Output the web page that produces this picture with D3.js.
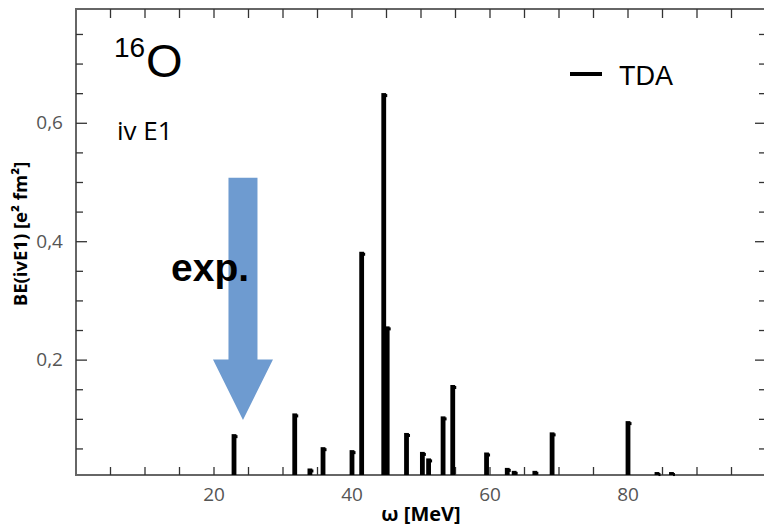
<!DOCTYPE html>
<html>
<head>
<meta charset="utf-8">
<script src="https://cdn.jsdelivr.net/npm/d3@7"></script>
<style>
  body { margin: 0; background: #fff; }
  svg { display: block; }
</style>
</head>
<body>
<svg width="764" height="527"></svg>
<script>
// TDA isovector E1 strengths for 16O
const energies = [22.9, 31.7, 33.9, 35.8, 40.0, 41.4, 44.6, 45.1, 47.9, 50.2, 51.1,
                  53.2, 54.6, 59.5, 62.5, 63.5, 66.5, 69.0, 80.0, 84.2, 86.3];
const strengths = [0.075, 0.110, 0.017, 0.053, 0.048, 0.383, 0.651, 0.257, 0.077, 0.045, 0.034,
                   0.105, 0.158, 0.044, 0.018, 0.013, 0.013, 0.078, 0.097, 0.011, 0.011];
const xTickLabels = [20, 40, 60, 80];
const yTickLabels = ["0,2", "0,4", "0,6"];
const yTickValues = [0.2, 0.4, 0.6];
const expEnergy = 24.2;

const svg = d3.select("svg");
const mLeft = 76, mRight = 766, mTop = 9, mBottom = 475;

const x = d3.scaleLinear().domain([0, 100]).range([mLeft, mRight]);
const y = d3.scaleLinear().domain([0.006, 0.793]).range([mBottom, mTop]);

const axisColor = "#666";
const labelFont = "'Open Sans', 'Noto Sans', sans-serif";

// frame
svg.append("rect")
    .attr("x", mLeft).attr("y", mTop)
    .attr("width", mRight - mLeft).attr("height", mBottom - mTop)
    .attr("fill", "none")
    .attr("stroke", axisColor)
    .attr("stroke-width", 2);

// x ticks (bottom and top, inward)
const xt = d3.range(5, 100, 5);
svg.selectAll(".xtb").data(xt).enter().append("line")
    .attr("x1", d => x(d)).attr("x2", d => x(d))
    .attr("y1", mBottom).attr("y2", mBottom - 8)
    .attr("stroke", "#333").attr("stroke-width", 1.3);
svg.selectAll(".xtt").data(xt).enter().append("line")
    .attr("x1", d => x(d)).attr("x2", d => x(d))
    .attr("y1", mTop).attr("y2", mTop + 9)
    .attr("stroke", "#333").attr("stroke-width", 1.3);

// y ticks (left and right, inward)
const yt = d3.range(0.05, 0.79, 0.05);
const isMajor = d => Math.abs(d * 10 - Math.round(d * 10)) < 1e-6 && Math.round(d * 10) % 2 === 0;
svg.selectAll(".ytl").data(yt).enter().append("line")
    .attr("x1", mLeft).attr("x2", d => mLeft + (isMajor(d) ? 11 : 7))
    .attr("y1", d => y(d)).attr("y2", d => y(d))
    .attr("stroke", "#333").attr("stroke-width", 1.3);
svg.selectAll(".ytr").data(yt).enter().append("line")
    .attr("x1", mRight).attr("x2", d => mRight - (isMajor(d) ? 11 : 7))
    .attr("y1", d => y(d)).attr("y2", d => y(d))
    .attr("stroke", "#333").attr("stroke-width", 1.3);

// tick labels
svg.selectAll(".xl").data(xTickLabels).enter().append("text")
    .attr("x", d => x(d)).attr("y", 501)
    .attr("text-anchor", "middle")
    .attr("fill", "#555")
    .style("font-family", labelFont)
    .style("font-size", "19px")
    .text(d => d);
svg.selectAll(".yl").data(yTickValues).enter().append("text")
    .attr("x", 63).attr("y", d => y(d) + 6)
    .attr("text-anchor", "end")
    .attr("fill", "#555")
    .style("font-family", labelFont)
    .style("font-size", "19px")
    .text((d, i) => yTickLabels[i]);

// axis titles
svg.append("text")
    .attr("x", 421).attr("y", 521)
    .attr("text-anchor", "middle")
    .style("font-family", labelFont)
    .style("font-weight", "bold")
    .style("font-size", "20px")
    .text("ω [MeV]");
svg.append("text")
    .attr("transform", "translate(27,234) rotate(-90)")
    .attr("text-anchor", "middle")
    .style("font-family", labelFont)
    .style("font-weight", "bold")
    .style("font-size", "18.5px")
    .text("BE(ivE1) [e² fm²]");

// bars
const bars = energies.map((e, i) => ({ e, v: strengths[i] }));
svg.selectAll(".bar").data(bars).enter().append("rect")
    .attr("x", d => x(d.e) - 2.4)
    .attr("y", d => y(d.v))
    .attr("width", 4.8)
    .attr("height", d => mBottom - y(d.v))
    .attr("fill", "#000");
svg.selectAll(".cap").data(bars).enter().append("rect")
    .attr("x", d => x(d.e) + 1.5)
    .attr("y", d => y(d.v) + 1)
    .attr("width", 2)
    .attr("height", 3)
    .attr("fill", "#000");

// experimental arrow
const ax = x(expEnergy);
const arrowPts = [
    [ax - 14.5, y(0.508)], [ax + 14.5, y(0.508)], [ax + 14.5, y(0.201)],
    [ax + 30, y(0.201)], [ax, y(0.099)], [ax - 30, y(0.201)], [ax - 14.5, y(0.201)]
];
svg.append("polygon")
    .attr("points", arrowPts.map(p => p.join(",")).join(" "))
    .attr("fill", "#6e9bd0");

svg.append("text")
    .attr("x", 171).attr("y", 281)
    .style("font-family", "'Liberation Sans', Arial, sans-serif")
    .style("font-weight", "bold")
    .style("font-size", "39px")
    .text("exp.");

// nucleus label
const nuc = svg.append("text")
    .style("font-family", "'Liberation Sans', Arial, sans-serif");
nuc.append("tspan").attr("x", 114).attr("y", 57).style("font-size", "28px").text("16");
nuc.append("tspan").attr("x", 146).attr("y", 77).style("font-size", "47px").text("O");

svg.append("text")
    .attr("x", 117).attr("y", 140)
    .style("font-family", labelFont)
    .style("font-size", "26px")
    .text("iv E1");

// legend
svg.append("line")
    .attr("x1", 570).attr("x2", 602)
    .attr("y1", 74).attr("y2", 74)
    .attr("stroke", "#000").attr("stroke-width", 4);
svg.append("text")
    .attr("x", 619).attr("y", 85)
    .style("font-family", "'Liberation Sans', Arial, sans-serif")
    .style("font-size", "27px")
    .text("TDA");
</script>
</body>
</html>
